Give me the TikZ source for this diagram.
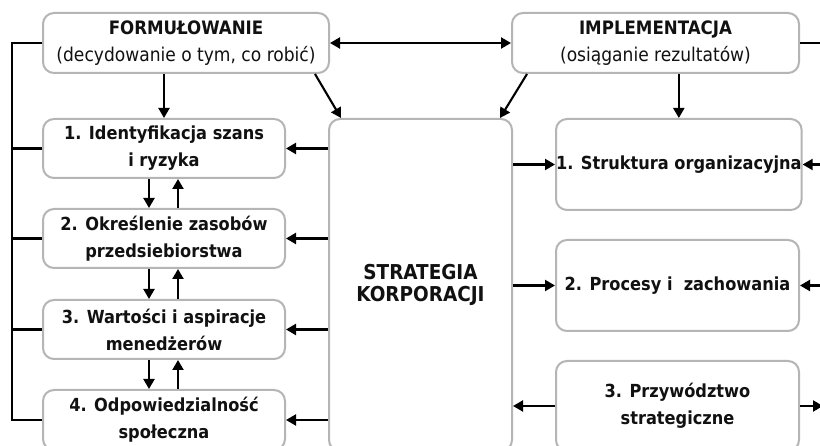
\documentclass[tikz,border=0pt]{standalone}
\usepackage{fontspec}
\setmainfont{DejaVu Sans Condensed}
\usetikzlibrary{arrows.meta}
\definecolor{boxgray}{HTML}{B5B5B5}
\definecolor{txt}{HTML}{111111}
\tikzset{
  box/.style={draw=boxgray, line width=2pt, rounded corners=11pt, fill=white,
    align=center, inner sep=0pt, anchor=north west, text=txt,
    font=\fontsize{18}{27}\selectfont},
  bbox/.style={box, font=\fontsize{18}{27}\selectfont\bfseries},
  conn/.style={line width=2.1pt, black},
  arr/.style={conn, -{Triangle[length=10pt,width=11pt]}},
  darr/.style={conn, {Triangle[length=10pt,width=11pt]}-{Triangle[length=10pt,width=11pt]}},
}
\begin{document}
\begin{tikzpicture}[x=1pt,y=-1pt]
\useasboundingbox (0,0) rectangle (820,446);
\clip (0,0) rectangle (820,446);
\fill[white] (0,0) rectangle (820,446);

% nodes
\node[box, minimum width=286pt, minimum height=60pt] (form) at (42,12)
  {{\fontsize{18.5}{27}\selectfont\bfseries FORMUŁOWANIE}\\{\fontsize{19}{27}\selectfont(decydowanie o tym, co robić)}};
\node[box, minimum width=287pt, minimum height=60pt] (impl) at (511,12)
  {{\fontsize{18.5}{27}\selectfont\bfseries IMPLEMENTACJA}\\{\fontsize{19}{27}\selectfont(osiąganie rezultatów)}};

\node[bbox, minimum width=242pt, minimum height=59pt] (l1) at (42,118)
  {1. Identyfikacja szans\\i ryzyka};
\node[bbox, minimum width=242pt, minimum height=59pt] (l2) at (42,208)
  {2. Określenie zasobów\\przedsiebiorstwa};
\node[bbox, minimum width=242pt, minimum height=59pt] (l3) at (42,299)
  {3. Wartości i aspiracje\\menedżerów};
\node[bbox, minimum width=242pt, minimum height=60pt] (l4) at (42,389)
  {4. Odpowiedzialność\\społeczna};

\node[box, minimum width=183pt, minimum height=332pt,
  font=\fontsize{20.5}{22}\selectfont\bfseries] (strat) at (328,118)
  {STRATEGIA\\KORPORACJI};

\node[bbox, minimum width=243pt, minimum height=91pt] (r1) at (555,118)
  {1. Struktura organizacyjna};
\node[bbox, minimum width=243pt, minimum height=91pt] (r2) at (555,239)
  {2. Procesy i~ zachowania};
\node[bbox, minimum width=243pt, minimum height=90pt] (r3) at (555,360)
  {3. Przywództwo\\strategiczne};

% frame coordinates
\coordinate (lf) at (12,0);
\coordinate (rf) at (823,0);

% left frame
\draw[conn] (form.west) -| (lf |- l4.west) -- (l4.west);
\draw[conn] (lf |- l1.west) -- (l1.west);
\draw[conn] (lf |- l2.west) -- (l2.west);
\draw[conn] (lf |- l3.west) -- (l3.west);

% right frame
\draw[conn] (impl.east) -| (rf |- r3.east);
\draw[arr] (rf |- r1.east) -- (r1.east);
\draw[arr] (rf |- r2.east) -- (r2.east);
\draw[arr] (r3.east) -- (rf |- r3.east);

% top
\draw[darr] (form.east) -- (impl.west);
\draw[arr] (form.south -| l1.north) -- (l1.north);
\draw[arr] (impl.south -| r1.north) -- (r1.north);
\draw[arr] ([xshift=-15pt]form.south east) -- ([xshift=13pt]strat.north west);
\draw[arr] ([xshift=16pt]impl.south west) -- ([xshift=-13pt]strat.north east);

% left column up/down
\draw[arr] ([xshift=-15pt]l1.south) -- ([xshift=-15pt]l2.north);
\draw[arr] ([xshift=14pt]l2.north) -- ([xshift=14pt]l1.south);
\draw[arr] ([xshift=-15pt]l2.south) -- ([xshift=-15pt]l3.north);
\draw[arr] ([xshift=14pt]l3.north) -- ([xshift=14pt]l2.south);
\draw[arr] ([xshift=-15pt]l3.south) -- ([xshift=-15pt]l4.north);
\draw[arr] ([xshift=14pt]l4.north) -- ([xshift=14pt]l3.south);

% strategy to left
\draw[arr] (strat.west |- l1.east) -- (l1.east);
\draw[arr] (strat.west |- l2.east) -- (l2.east);
\draw[arr] (strat.west |- l3.east) -- (l3.east);
\draw[arr] (strat.west |- l4.east) -- (l4.east);

% strategy to right
\draw[arr] (strat.east |- r1.west) -- (r1.west);
\draw[arr] (strat.east |- r2.west) -- (r2.west);
\draw[arr] (r3.west) -- (strat.east |- r3.west);
\end{tikzpicture}
\end{document}
